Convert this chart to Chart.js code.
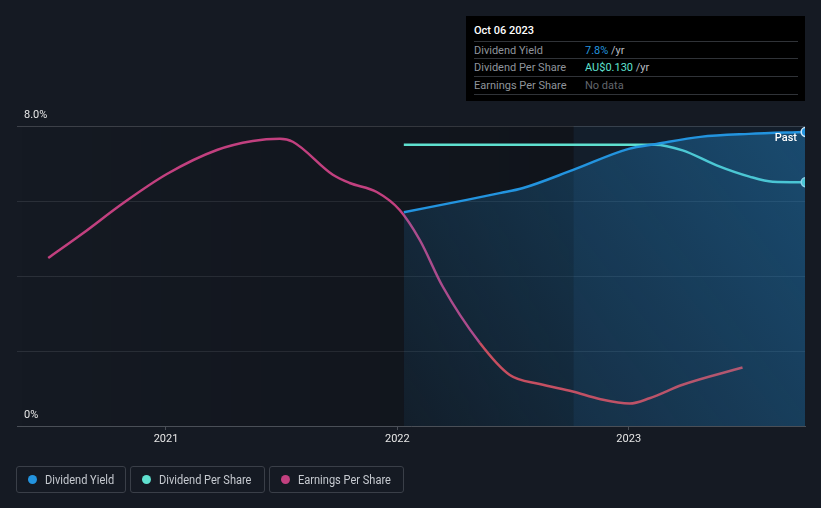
<!DOCTYPE html>
<html>
<head>
<meta charset="utf-8">
<script src="https://cdn.jsdelivr.net/npm/chart.js@4/dist/chart.umd.min.js"></script>
<style>
  html,body{margin:0;padding:0;background:#151a23;}
  #wrap{position:relative;width:821px;height:508px;background:#151a23;font-family:Roboto,"Noto Sans",sans-serif;overflow:hidden;}
  canvas{position:absolute;left:0;top:0;}
  #tip{position:absolute;left:466px;top:16px;width:339px;height:85px;background:#000;box-sizing:border-box;}
  #tip .title{position:absolute;left:8px;top:8px;font-size:11px;color:#fff;font-weight:500;line-height:14px;}
  #tip .row{position:absolute;left:8px;width:324px;height:17px;border-top:1px solid #303338;font-size:11px;line-height:17px;}
  #tip .lab{position:absolute;left:0;color:#8f949b;}
  #tip .val{position:absolute;left:111px;color:#b9bcc1;}
  #legend{position:absolute;left:16px;top:466px;display:flex;}
  .lg{box-sizing:border-box;height:27px;border:1px solid #3a3f48;border-radius:3px;margin-right:4px;display:flex;align-items:center;padding-left:11px;font-size:12px;color:#c6cad0;}
  .lg .t{display:inline-block;transform:scaleX(0.92);transform-origin:left center;white-space:nowrap;}
  .dot{width:9px;height:9px;border-radius:50%;margin-right:8px;}
</style>
</head>
<body>
<div id="wrap">
  <canvas id="c" width="821" height="508"></canvas>
  <div id="tip">
    <div class="title">Oct 06 2023</div>
    <div class="row" style="top:25px"><span class="lab">Dividend Yield</span><span class="val"><span style="color:#2394df">7.8%</span> /yr</span></div>
    <div class="row" style="top:42px"><span class="lab">Dividend Per Share</span><span class="val"><span style="color:#5fe0cf">AU$0.130</span> /yr</span></div>
    <div class="row" style="top:60px;border-bottom:1px solid #303338"><span class="lab">Earnings Per Share</span><span class="val" style="color:#62666d">No data</span></div>
  </div>
  <div id="legend">
    <div class="lg" style="width:110px"><span class="dot" style="background:#2394df"></span><span class="t">Dividend Yield</span></div>
    <div class="lg" style="width:135px"><span class="dot" style="background:#5fe0cf"></span><span class="t">Dividend Per Share</span></div>
    <div class="lg" style="width:135px"><span class="dot" style="background:#c2407f"></span><span class="t">Earnings Per Share</span></div>
  </div>
</div>
<script>
// ---- data (x in decimal years) ----
const yieldYears  = [2022.028, 2022.300, 2022.442, 2022.540, 2022.760, 2023.000, 2023.120, 2023.310, 2023.520, 2023.765];
const yieldValues = [5.70, 6.03, 6.21, 6.34, 6.83, 7.39, 7.52, 7.71, 7.79, 7.84];   // %

const dpsYears  = [2022.028, 2023.112, 2023.233, 2023.380, 2023.522, 2023.622, 2023.765];
const dpsValues = [0.150, 0.150, 0.147, 0.139, 0.133, 0.1303, 0.130];               // AU$

const epsYears  = [2020.491, 2020.641, 2020.814, 2021.004, 2021.220, 2021.375, 2021.492, 2021.548, 2021.721, 2021.794, 2021.911, 2022.010, 2022.097, 2022.196, 2022.356, 2022.486, 2022.615, 2022.758, 2022.874, 2023.004, 2023.090, 2023.233, 2023.492];
const epsValues = [0.224, 0.257, 0.297, 0.336, 0.368, 0.380, 0.383, 0.379, 0.335, 0.324, 0.312, 0.288, 0.248, 0.186, 0.111, 0.068, 0.056, 0.046, 0.036, 0.030, 0.037, 0.055, 0.078];   // AU$

const yearTicks = [2021, 2022, 2023];
const yTickLabels = ['0%', '8.0%'];
const xMin = 2020.356, xMax = 2023.762;
const pastStart = 2022.762;   // one year before last date
const epsDeclineFrom = 2022.356;

const toXY = (xs, ys) => xs.map((x, i) => ({x, y: ys[i]}));
const lastOnly = r => (ctx) => ctx.dataIndex === ctx.dataset.data.length - 1 ? r : 0;

const overlayPlugin = {
  id: 'overlay',
  beforeDatasetsDraw(chart) {
    const {ctx, chartArea: a, scales: {x}} = chart;
    const px = x.getPixelForValue(pastStart);
    ctx.save();
    const g = ctx.createLinearGradient(a.left, 0, px, 0);
    g.addColorStop(0, 'rgba(0,0,0,0)');
    g.addColorStop(1, 'rgba(0,0,0,0.22)');
    ctx.fillStyle = g;
    ctx.fillRect(a.left, a.top, px - a.left, a.bottom - a.top);
    ctx.fillStyle = 'rgba(10,70,120,0.10)';
    ctx.fillRect(px, a.top, a.right - px, a.bottom - a.top);
    ctx.restore();
  },
  afterDraw(chart) {
    const {ctx, chartArea: a, scales: {y}} = chart;
    ctx.save();
    ctx.font = '11px Roboto, "Noto Sans", sans-serif';
    ctx.fillStyle = '#e6e6e6';
    ctx.textBaseline = 'middle';
    ctx.textAlign = 'left';
    ctx.fillText(yTickLabels[1], 24, y.getPixelForValue(8) - 11);
    ctx.fillText(yTickLabels[0], 24, y.getPixelForValue(0) - 11);
    ctx.font = '500 11px Roboto, "Noto Sans", sans-serif';
    ctx.fillStyle = '#ffffff';
    ctx.textAlign = 'right';
    ctx.fillText('Past', a.right - 8, a.top + 12);
    ctx.restore();
  }
};

new Chart(document.getElementById('c'), {
  type: 'line',
  data: {
    datasets: [
      {
        label: 'Dividend Yield', yAxisID: 'y',
        data: toXY(yieldYears, yieldValues),
        borderColor: '#2394df', borderWidth: 2.5,
        cubicInterpolationMode: 'monotone',
        pointRadius: lastOnly(4.5), pointBackgroundColor: '#2394df', pointBorderColor: '#cfe8fb', pointBorderWidth: 1.5,
        fill: 'origin', clip: 0,
        backgroundColor: (c) => {
          const ch = c.chart, a = ch.chartArea;
          if (!a) return 'rgba(35,148,223,0.2)';
          const x0 = ch.scales.x.getPixelForValue(yieldYears[0]);
          const g = ch.ctx.createLinearGradient(x0, a.bottom, a.right, a.top);
          g.addColorStop(0, 'rgba(35,148,223,0.07)');
          g.addColorStop(1, 'rgba(35,148,223,0.38)');
          return g;
        }
      },
      {
        label: 'Dividend Per Share', yAxisID: 'yDps',
        data: toXY(dpsYears, dpsValues),
        borderColor: '#5fe0cf', borderWidth: 2.5,
        cubicInterpolationMode: 'monotone',
        pointRadius: lastOnly(4.5), pointBackgroundColor: '#5fe0cf', pointBorderColor: '#c8f5ef', pointBorderWidth: 1.5,
        fill: false, clip: 0
      },
      {
        label: 'Earnings Per Share', yAxisID: 'yEps',
        data: toXY(epsYears, epsValues),
        borderColor: '#c2407f', borderWidth: 2.5,
        cubicInterpolationMode: 'monotone',
        pointRadius: 0, fill: false,
        segment: { borderColor: (s) => s.p0.parsed.x >= epsDeclineFrom - 0.001 ? '#e2434b' : '#c2407f' }
      }
    ]
  },
  options: {
    responsive: false, animation: false,
    layout: { padding: { left: 17, right: 16, top: 126, bottom: 52 } },
    plugins: { legend: { display: false }, tooltip: { enabled: false } },
    scales: {
      x: {
        type: 'linear', min: xMin, max: xMax,
        afterBuildTicks: (s) => { s.ticks = yearTicks.map(v => ({value: v})); },
        afterFit: (s) => { s.height = 30; },
        ticks: { color: '#e6e6e6', font: { size: 11, family: 'Roboto' }, padding: 3, callback: (v) => String(v), maxRotation: 0 },
        grid: { display: true, drawOnChartArea: false, drawTicks: true, tickLength: 4, color: '#4a4f57' },
        border: { display: true, color: '#4a4f57', width: 1 }
      },
      y: {
        min: 0, max: 8,
        ticks: { display: false, stepSize: 2 },
        afterFit: (s) => { s.width = 0; },
        grid: { drawTicks: false, color: (c) => c.tick.value === 8 ? '#3d4149' : '#2a2f38' },
        border: { display: false }
      },
      yDps: { display: false, min: 0, max: 0.16 },
      yEps: { display: false, min: 0, max: 0.4 }
    }
  },
  plugins: [overlayPlugin]
});
</script>
</body>
</html>
